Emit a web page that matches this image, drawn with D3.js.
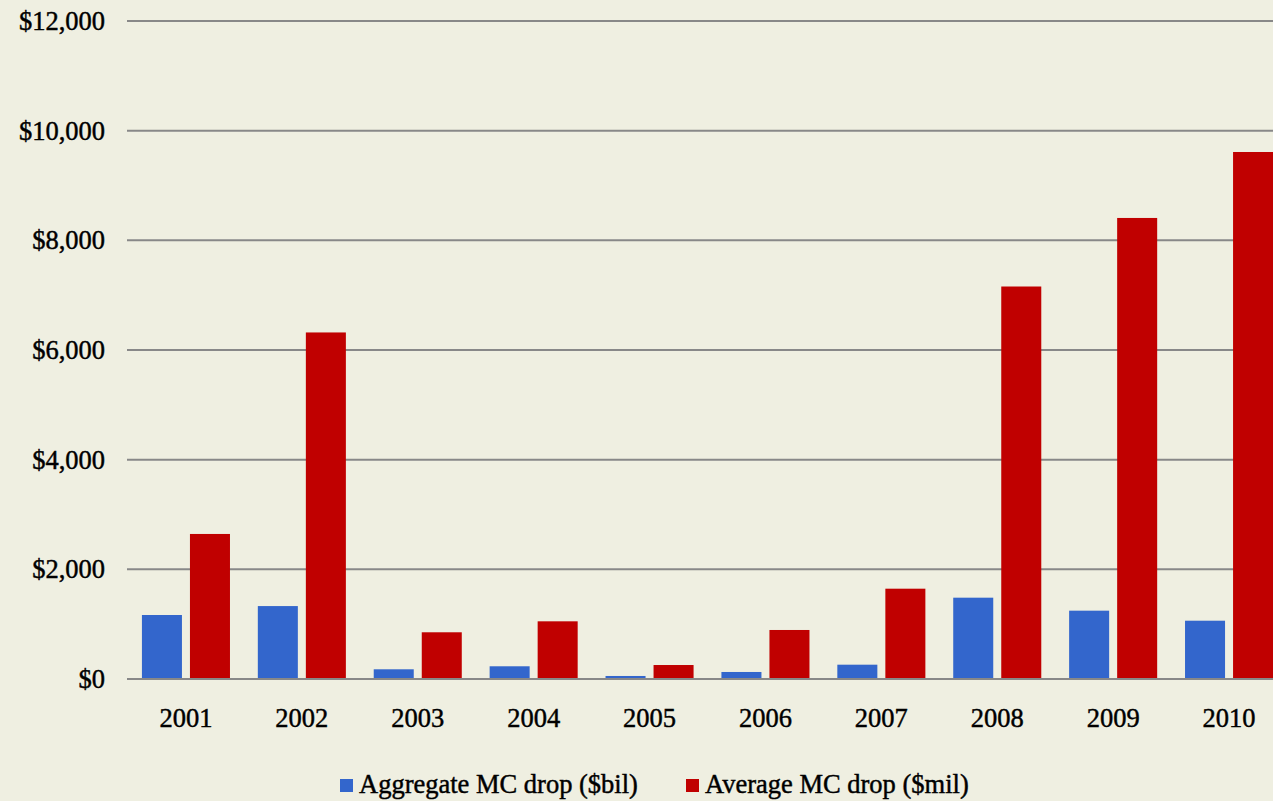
<!DOCTYPE html>
<html><head><meta charset="utf-8">
<script src="https://cdn.jsdelivr.net/npm/d3@7"></script>
<style>html,body{margin:0;padding:0;background:#EFEFE1;overflow:hidden}</style>
</head><body>
<svg id="c" width="1273" height="801"></svg>
<script>
const years = ["2001","2002","2003","2004","2005","2006","2007","2008","2009","2010"];
const seriesNames = ["Aggregate MC drop ($bil)", "Average MC drop ($mil)"];
const aggregate = [1167, 1330, 177, 232, 55, 128, 261, 1483, 1246, 1063];
const average = [2645, 6320, 852, 1052, 255, 894, 1647, 7158, 8408, 9611];
const yTicks = [0, 2000, 4000, 6000, 8000, 10000, 12000];
const colors = ["#3366CC", "#C00000"];

const svg = d3.select("#c");
svg.append("rect").attr("width",1273).attr("height",801).attr("fill","#EFEFE1");

const x0 = d3.scaleBand().domain(years).range([128, 1287]).padding(0);
const x1 = d3.scaleBand().domain(seriesNames).range([0, x0.bandwidth()]).paddingInner(1/6).paddingOuter(0.29);
const y = d3.scaleLinear().domain([0, 12000]).range([679, 21]);

const font = "'Liberation Serif','Times New Roman',serif";
const fmt = d => "$" + d3.format(",")(d);
function styleText(sel){
  sel.attr("font-family",font).attr("font-size",26.5).attr("fill","#000")
     .attr("stroke","#000").attr("stroke-width",0.45);
}

const yAxis = d3.axisLeft(y).tickValues(yTicks).tickFormat(fmt).tickSize(0).tickPadding(22);
const ga = svg.append("g").attr("transform","translate(127,0)").call(yAxis);
ga.select(".domain").remove();
ga.selectAll("text").call(styleText);

svg.append("g").selectAll("line").data(yTicks).join("line")
  .attr("x1",127).attr("x2",1273)
  .attr("y1",d=>y(d)).attr("y2",d=>y(d))
  .attr("stroke","#888888").attr("stroke-width",2);

const data = years.map((yr,i)=>({year:yr, vals:[aggregate[i], average[i]]}));
const groups = svg.append("g").selectAll("g").data(data).join("g")
  .attr("transform", d=>`translate(${x0(d.year)},0)`);
groups.selectAll("rect").data(d=>d.vals.map((v,j)=>({name:seriesNames[j], v, j})))
  .join("rect")
  .attr("x", d=>x1(d.name)).attr("width", x1.bandwidth())
  .attr("y", d=>y(d.v)).attr("height", d=>y(0)-y(d.v))
  .attr("fill", d=>colors[d.j]);

svg.append("line").attr("x1",127).attr("x2",1273).attr("y1",y(0)).attr("y2",y(0))
  .attr("stroke","#888888").attr("stroke-width",2);

const xAxis = d3.axisBottom(x0).tickSize(0).tickPadding(0);
const gx = svg.append("g").attr("transform","translate(0,727)").call(xAxis);
gx.select(".domain").remove();
gx.selectAll("text").call(styleText);
gx.selectAll("text").attr("dy",0);

const legendX = [340, 686];
const lg = svg.append("g").selectAll("g").data(seriesNames).join("g")
  .attr("transform",(d,i)=>`translate(${legendX[i]},779)`);
lg.append("rect").attr("width",13).attr("height",13).attr("fill",(d,i)=>colors[i]);
lg.append("text").attr("x",19).attr("y",14).text(d=>d).call(styleText);
</script>
</body></html>
